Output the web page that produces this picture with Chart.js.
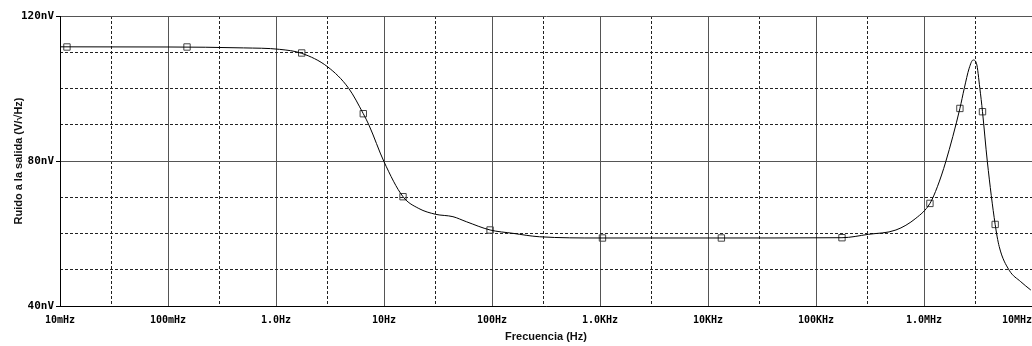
<!DOCTYPE html>
<html>
<head>
<meta charset="utf-8">
<script src="https://cdn.jsdelivr.net/npm/chart.js@4.4.1/dist/chart.umd.min.js"></script>
<style>
  body { margin: 0; background: #fff; }
  #wrap { width: 1032px; height: 346px; }
</style>
</head>
<body>
<div id="wrap"><canvas id="noiseChart" width="1032" height="346"></canvas></div>
<script>
// curva de ruido (Hz, nV)
const curveFreq = [0.01, 0.1, 0.5, 1.08, 1.73, 3.0, 4.71, 6.43, 7.26, 10, 15, 21, 30, 43.5, 57.8, 96, 156, 275,
  1000, 10000, 174000, 305000, 550000, 841000, 1.135e6, 1.33e6, 1.59e6, 2.15e6, 2.36e6, 2.62e6, 2.85e6,
  3.06e6, 3.29e6, 3.48e6, 3.86e6, 4.56e6, 4.97e6, 6.14e6, 7.87e6, 9.75e6];
const curveNoise = [111.5, 111.45, 111.2, 110.8, 109.7, 106.0, 100.05, 93.05, 89.9, 79.8, 70.15, 66.9, 65.3, 64.64, 63.26, 60.97, 60.05, 59.1,
  58.76, 58.76, 58.84, 59.77, 60.97, 64.2, 68.3, 72.9, 79.8, 94.5, 100.05, 105.6, 107.86,
  106.95, 100.05, 93.6, 79.8, 62.5, 56.4, 49.9, 46.7, 44.4];

// marcadores cuadrados
const markerFreq = [0.0116, 0.15, 1.73, 6.43, 15, 96, 1054, 13300, 174000, 1.135e6, 2.15e6, 3.48e6, 4.56e6];
const markerNoise = [111.45, 111.45, 109.8, 93.05, 70.15, 60.97, 58.76, 58.76, 58.84, 68.3, 94.5, 93.6, 62.5];

const xTickValues = [0.01, 0.1, 1, 10, 100, 1e3, 1e4, 1e5, 1e6, 1e7];
const xTickLabels = ['10mHz', '100mHz', '1.0Hz', '10Hz', '100Hz', '1.0KHz', '10KHz', '100KHz', '1.0MHz', '10MHz'];
const xMinorTicks = [0.03, 0.3, 3, 30, 300, 3e3, 3e4, 3e5, 3e6];
const yTickValues = [40, 80, 120];
const yMinorTicks = [50, 60, 70, 90, 100, 110];

const tickFont = { family: 'DejaVu Sans Mono', size: 10, weight: 'bold' };
const titleFont = { family: 'Liberation Sans', size: 11, weight: 'bold' };

new Chart(document.getElementById('noiseChart'), {
  type: 'line',
  data: {
    datasets: [{
      label: 'ruido',
      data: curveFreq.map((f, i) => ({ x: f, y: curveNoise[i] })),
      borderColor: '#000',
      borderWidth: 1,
      pointRadius: 0,
      cubicInterpolationMode: 'monotone',
      fill: false
    }, {
      label: 'marcas',
      data: markerFreq.map((f, i) => ({ x: f, y: markerNoise[i] })),
      showLine: false,
      pointStyle: 'rect',
      pointRadius: 4.5,
      borderColor: '#444',
      borderWidth: 1,
      backgroundColor: 'rgba(0,0,0,0)'
    }]
  },
  options: {
    responsive: false,
    animation: false,
    events: [],
    layout: { autoPadding: false, padding: { top: 16, right: 0, left: 0, bottom: 0 } },
    plugins: { legend: { display: false }, tooltip: { enabled: false } },
    scales: {
      x: {
        type: 'logarithmic',
        min: 0.01,
        max: 1e7,
        afterBuildTicks: axis => { axis.ticks = xTickValues.map(v => ({ value: v })); },
        afterFit: axis => { axis.height = 40; axis.paddingRight = 0; axis.paddingLeft = 0; },
        ticks: {
          autoSkip: false,
          maxRotation: 0,
          padding: 8,
          color: '#000',
          font: tickFont,
          callback: (v, i) => i === xTickLabels.length - 1 ? xTickLabels[i] + '     ' : xTickLabels[i]
        },
        grid: { color: '#555', lineWidth: 1, drawTicks: false },
        border: { color: '#000', width: 1 },
        title: { display: true, text: 'Frecuencia (Hz)', color: '#111', font: titleFont, padding: { top: 4, bottom: 2 } }
      },
      x2: {
        type: 'logarithmic',
        position: 'bottom',
        min: 0.01,
        max: 1e7,
        afterBuildTicks: axis => { axis.ticks = xMinorTicks.map(v => ({ value: v })); },
        afterFit: axis => { axis.height = 0; axis.paddingRight = 0; axis.paddingLeft = 0; },
        ticks: { display: false },
        grid: { color: '#222', lineWidth: 1, drawTicks: false },
        border: { display: false, dash: [3, 2] }
      },
      y: {
        min: 40,
        max: 120,
        afterBuildTicks: axis => { axis.ticks = yTickValues.map(v => ({ value: v })); },
        afterFit: axis => { axis.width = 60; },
        ticks: {
          padding: 2,
          color: '#000',
          font: { family: 'DejaVu Sans Mono', size: 11, weight: 'bold' },
          callback: v => v + 'nV'
        },
        grid: { color: '#555', lineWidth: 1, tickLength: 4, tickColor: '#000' },
        border: { color: '#000', width: 1 },
        title: { display: true, text: 'Ruido a la salida (V/√Hz)', color: '#111', font: titleFont, padding: { top: 12, bottom: 0 } }
      },
      y2: {
        position: 'left',
        min: 40,
        max: 120,
        afterBuildTicks: axis => { axis.ticks = yMinorTicks.map(v => ({ value: v })); },
        afterFit: axis => { axis.width = 0; },
        ticks: { display: false },
        grid: { color: '#222', lineWidth: 1, drawTicks: false },
        border: { display: false, dash: [3, 2] }
      }
    }
  }
});
</script>
</body>
</html>
